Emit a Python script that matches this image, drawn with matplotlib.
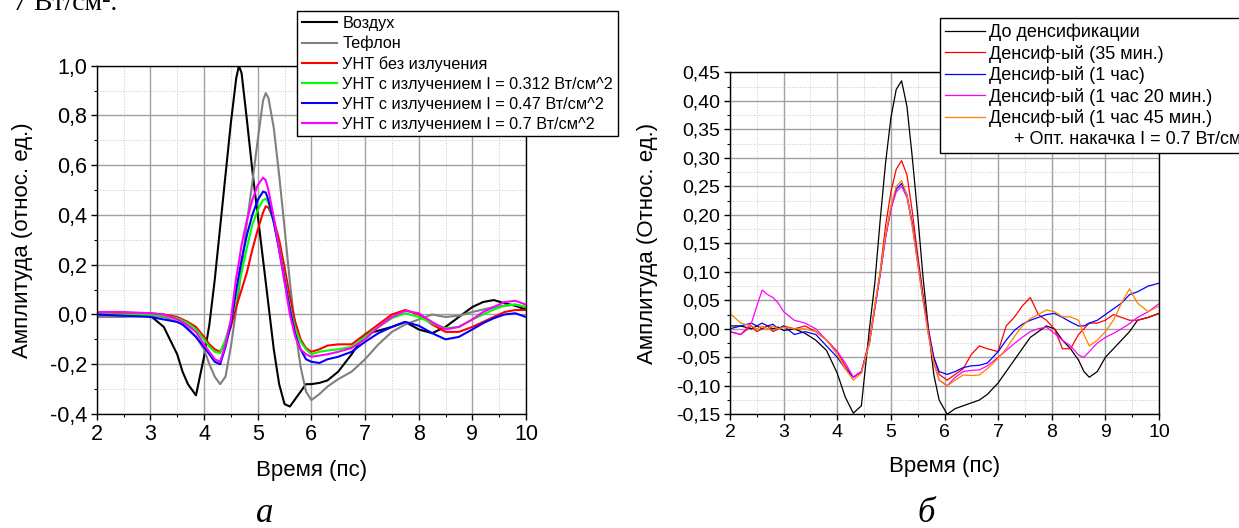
import matplotlib
matplotlib.use('Agg')
import matplotlib.pyplot as plt
from matplotlib.lines import Line2D
from matplotlib.ticker import MultipleLocator, FuncFormatter

plt.rcParams['font.family'] = ['Liberation Sans', 'DejaVu Sans']
plt.rcParams['axes.unicode_minus'] = False

# ---- panel (a): time axis, ps
t_a = [2.0, 2.5, 3.0, 3.25, 3.5, 3.6, 3.7, 3.85, 4.0, 4.1,
       4.2, 4.3, 4.4, 4.5, 4.6, 4.65, 4.7, 4.8, 4.9, 5.0,
       5.1, 5.15, 5.2, 5.3, 5.4, 5.5, 5.6, 5.7, 5.8, 5.9,
       6.0, 6.15, 6.3, 6.5, 6.75, 7.0, 7.25, 7.5, 7.75, 8.0,
       8.25, 8.5, 8.75, 9.0, 9.2, 9.4, 9.6, 9.8, 10.0]

air = [0.0, -0.005, -0.005, -0.05, -0.16, -0.23, -0.28, -0.325, -0.17, -0.04,
       0.14, 0.35, 0.56, 0.77, 0.95, 1.0, 0.97, 0.78, 0.58, 0.4,
       0.22, 0.13, 0.04, -0.14, -0.28, -0.36, -0.37, -0.34, -0.31, -0.28,
       -0.28, -0.275, -0.265, -0.23, -0.16, -0.08, -0.065, -0.05, -0.03, -0.06,
       -0.075, -0.05, -0.01, 0.03, 0.05, 0.058, 0.045, 0.035, 0.02]

teflon = [-0.01, -0.01, -0.005, -0.01, -0.03, -0.04, -0.055, -0.09, -0.14, -0.2,
          -0.25, -0.28, -0.25, -0.13, 0.02, 0.1, 0.19, 0.37, 0.53, 0.7,
          0.86, 0.89, 0.87, 0.75, 0.56, 0.35, 0.13, -0.06, -0.21, -0.31,
          -0.344, -0.32, -0.29, -0.26, -0.23, -0.18, -0.12, -0.07, -0.04, -0.02,
          0.0, -0.01, -0.005, 0.01, 0.02, 0.03, 0.035, 0.04, 0.03]

cnt_0 = [0.01, 0.005, 0.005, 0.0, -0.01, -0.02, -0.03, -0.05, -0.09, -0.12,
         -0.14, -0.15, -0.11, -0.05, 0.03, 0.065, 0.1, 0.17, 0.26, 0.34,
         0.41, 0.435, 0.43, 0.38, 0.3, 0.19, 0.07, -0.03, -0.1, -0.135,
         -0.15, -0.14, -0.125, -0.12, -0.12, -0.08, -0.04, 0.0, 0.018, 0.0,
         -0.04, -0.07, -0.07, -0.05, -0.03, -0.01, 0.01, 0.018, 0.018]

cnt_312 = [0.0, 0.0, 0.0, -0.005, -0.015, -0.025, -0.035, -0.06, -0.1, -0.13,
           -0.15, -0.155, -0.1, -0.03, 0.07, 0.12, 0.17, 0.27, 0.36, 0.42,
           0.46, 0.465, 0.45, 0.37, 0.27, 0.15, 0.03, -0.06, -0.11, -0.14,
           -0.16, -0.15, -0.145, -0.14, -0.13, -0.09, -0.05, -0.015, 0.005, -0.01,
           -0.035, -0.055, -0.05, -0.02, 0.0, 0.02, 0.035, 0.04, 0.03]

cnt_47 = [0.0, -0.005, -0.01, -0.02, -0.03, -0.04, -0.06, -0.09, -0.13, -0.16,
          -0.19, -0.2, -0.13, -0.04, 0.1, 0.16, 0.22, 0.32, 0.4, 0.46,
          0.494, 0.49, 0.46, 0.37, 0.26, 0.14, 0.02, -0.08, -0.14, -0.18,
          -0.19, -0.195, -0.18, -0.17, -0.15, -0.11, -0.075, -0.05, -0.03, -0.045,
          -0.075, -0.1, -0.09, -0.06, -0.035, -0.015, 0.0, 0.005, -0.01]

cnt_7 = [0.01, 0.01, 0.005, 0.0, -0.02, -0.03, -0.045, -0.07, -0.12, -0.15,
         -0.18, -0.19, -0.12, -0.02, 0.15, 0.21, 0.28, 0.38, 0.46, 0.52,
         0.55, 0.54, 0.5, 0.39, 0.26, 0.13, 0.0, -0.09, -0.14, -0.16,
         -0.17, -0.165, -0.16, -0.15, -0.135, -0.1, -0.05, -0.01, 0.015, 0.005,
         -0.03, -0.06, -0.05, -0.02, 0.01, 0.03, 0.05, 0.055, 0.04]

labels_a = ['Воздух', 'Тефлон', 'УНТ без излучения',
            'УНТ с излучением I = 0.312 Вт/см^2',
            'УНТ с излучением I = 0.47 Вт/см^2',
            'УНТ с излучением I = 0.7 Вт/см^2']
colors_a = ['#000000', '#808080', '#ff0000', '#00ff00', '#0000ff', '#ff00ff']

# ---- panel (б)
t_b = [2.0, 2.2, 2.4, 2.5, 2.6, 2.7, 2.8, 2.9, 3.0,
       3.2, 3.4, 3.6, 3.8, 4.0,
       4.15, 4.3, 4.45, 4.6, 4.7, 4.8, 4.9, 5.0,
       5.1, 5.2, 5.3, 5.4, 5.5, 5.6, 5.7, 5.8, 5.9,
       6.05, 6.2, 6.35, 6.5, 6.65, 6.8, 7.0,
       7.15, 7.3, 7.45, 7.6, 7.75, 7.9, 8.05,
       8.2, 8.35, 8.5, 8.6, 8.7, 8.85, 9.0,
       9.15, 9.3, 9.45, 9.6, 9.8, 10.0]

before = [0.005, 0.005, 0.0, 0.005, 0.0, 0.005, 0.0, 0.003, -0.003,
          0.0, -0.008, -0.02, -0.038, -0.078,
          -0.12, -0.148, -0.135, 0.0, 0.08, 0.19, 0.29, 0.37,
          0.42, 0.435, 0.39, 0.3, 0.2, 0.09, 0.0, -0.08, -0.125,
          -0.15, -0.14, -0.135, -0.13, -0.125, -0.115, -0.095,
          -0.075, -0.055, -0.035, -0.015, -0.005, 0.005, 0.0,
          -0.02, -0.035, -0.055, -0.075, -0.085, -0.075, -0.05,
          -0.035, -0.02, -0.005, 0.015, 0.02, 0.027]

dens_35 = [-0.005, -0.01, 0.005, -0.005, 0.0, 0.005, -0.005, 0.0, 0.005,
           0.0, 0.005, -0.005, -0.02, -0.04,
           -0.065, -0.085, -0.075, -0.02, 0.04, 0.1, 0.18, 0.24,
           0.28, 0.295, 0.27, 0.205, 0.13, 0.06, 0.0, -0.05, -0.08,
           -0.09, -0.08, -0.07, -0.045, -0.03, -0.035, -0.04,
           0.005, 0.02, 0.04, 0.055, 0.025, 0.015, 0.0,
           -0.035, -0.035, -0.01, 0.0, 0.01, 0.01, 0.015,
           0.025, 0.02, 0.015, 0.015, 0.02, 0.027]

dens_60 = [0.0, 0.005, 0.01, 0.005, 0.01, 0.005, 0.008, 0.0, 0.005,
           -0.01, -0.005, -0.01, -0.03, -0.05,
           -0.07, -0.085, -0.075, -0.025, 0.035, 0.095, 0.16, 0.21,
           0.245, 0.255, 0.235, 0.185, 0.12, 0.055, -0.005, -0.05, -0.075,
           -0.08, -0.075, -0.068, -0.065, -0.064, -0.06, -0.04,
           -0.02, -0.003, 0.008, 0.015, 0.02, 0.025, 0.027,
           0.02, 0.012, 0.005, 0.005, 0.01, 0.015, 0.025,
           0.035, 0.045, 0.06, 0.065, 0.075, 0.08]

dens_80 = [-0.005, -0.01, 0.01, 0.04, 0.068, 0.06, 0.055, 0.045, 0.03,
           0.015, 0.01, 0.0, -0.02, -0.04,
           -0.06, -0.085, -0.075, -0.025, 0.035, 0.095, 0.16, 0.21,
           0.24, 0.25, 0.23, 0.18, 0.115, 0.05, -0.01, -0.06, -0.09,
           -0.1, -0.085, -0.075, -0.073, -0.072, -0.065, -0.05,
           -0.038, -0.026, -0.015, -0.005, 0.0, 0.003, -0.008,
           -0.02, -0.03, -0.046, -0.05, -0.04, -0.025, -0.015,
           -0.008, 0.0, 0.009, 0.02, 0.03, 0.044]

dens_105 = [0.027, 0.01, 0.005, 0.0, 0.005, 0.0, 0.005, 0.0, 0.003,
            0.0, 0.0, -0.005, -0.02, -0.045,
            -0.07, -0.09, -0.078, -0.025, 0.04, 0.1, 0.165, 0.215,
            0.25, 0.26, 0.235, 0.18, 0.115, 0.05, -0.01, -0.06, -0.09,
            -0.1, -0.09, -0.081, -0.082, -0.081, -0.07, -0.052,
            -0.035, -0.014, 0.005, 0.018, 0.025, 0.033, 0.03,
            0.021, 0.021, 0.015, -0.01, -0.03, -0.02, -0.005,
            0.015, 0.045, 0.07, 0.045, 0.03, 0.04]

labels_b = ['До денсификации', 'Денсиф-ый (35 мин.)', 'Денсиф-ый (1 час)',
            'Денсиф-ый (1 час 20 мин.)', 'Денсиф-ый (1 час 45 мин.)']
colors_b = ['#000000', '#ff0000', '#0000ff', '#ff00ff', '#ff8000']
pump_note = '     + Опт. накачка I = 0.7 Вт/см²'

W, H = 1239, 528


def comma(fmt):
    def f(v, pos):
        if abs(v) < 1e-9:
            v = 0.0
        return (fmt % v).replace('.', ',')
    return FuncFormatter(f)


def style_axes(ax, ylo, yhi, ymaj, ymin, fmt, ylabel, tsize, labelpad):
    ax.set_xlim(2, 10)
    ax.set_ylim(ylo, yhi)
    ax.xaxis.set_major_locator(MultipleLocator(1))
    ax.xaxis.set_minor_locator(MultipleLocator(0.5))
    ax.yaxis.set_major_locator(MultipleLocator(ymaj))
    ax.yaxis.set_minor_locator(MultipleLocator(ymin))
    ax.yaxis.set_major_formatter(comma(fmt))
    ax.grid(which='major', color='#a0a0a0', lw=1.0, ls='-')
    ax.grid(which='minor', color='#c8c8c8', lw=0.7, ls=':')
    ax.set_axisbelow(True)
    ax.tick_params(which='major', direction='out', length=4, width=1.0,
                   labelsize=tsize, pad=3)
    ax.tick_params(which='minor', direction='out', length=2.5, width=0.8)
    for s in ax.spines.values():
        s.set_linewidth(1.0)
    ax.set_xlabel('Время (пс)', fontsize=16, labelpad=11)
    ax.set_ylabel(ylabel, fontsize=16, labelpad=labelpad)


fig = plt.figure(figsize=(W / 100, H / 100), dpi=100)

# left panel
ax1 = fig.add_axes([96.7 / W, 1 - 414 / H, (526 - 96.7) / W, (414 - 65.7) / H])
ys_a = [air, teflon, cnt_0, cnt_312, cnt_47, cnt_7]
for y, c, lab in zip(ys_a, colors_a, labels_a):
    ax1.plot(t_a, y, color=c, lw=1.5, label=lab)
style_axes(ax1, -0.4, 1.0, 0.2, 0.1, '%.1f', 'Амплитуда (относ. ед.)', 15.5, 12)

# right panel
ax2 = fig.add_axes([730 / W, 1 - 414.3 / H, (1159 - 730) / W, (414.3 - 72.3) / H])
ys_b = [before, dens_35, dens_60, dens_80, dens_105]
for y, c, lab in zip(ys_b, colors_b, labels_b):
    ax2.plot(t_b, y, color=c, lw=0.9, label=lab)
style_axes(ax2, -0.15, 0.45, 0.05, 0.025, '%.2f', 'Амплитуда (Относ. ед.)', 14, 13)

# legends sit partly outside the axes
h1, l1 = ax1.get_legend_handles_labels()
leg1 = fig.legend(h1, l1, loc='upper left', bbox_to_anchor=(297 / W, 1 - 11 / H),
                  fontsize=11.7, fancybox=False, edgecolor='black', framealpha=1,
                  borderpad=0.3, labelspacing=0.3, handlelength=2.15,
                  handletextpad=0.35, borderaxespad=0)
leg1.get_frame().set_linewidth(1.0)

h2, l2 = ax2.get_legend_handles_labels()
h2.append(Line2D([], [], color='none'))
l2.append(pump_note)
leg2 = fig.legend(h2, l2, loc='upper left', bbox_to_anchor=(940 / W, 1 - 18 / H),
                  fontsize=13, fancybox=False, edgecolor='black', framealpha=1,
                  borderpad=0.3, labelspacing=0.2, handlelength=2.2,
                  handletextpad=0.22, borderaxespad=0)
leg2.get_frame().set_linewidth(1.0)

# panel letters and the cut-off line of the surrounding document
fig.text(265 / W, 1 - 522 / H, 'а', fontsize=25, style='italic',
         family='Liberation Serif', ha='center', va='baseline')
fig.text(926 / W, 1 - 522 / H, 'б', fontsize=25, style='italic',
         family='Liberation Serif', ha='center', va='baseline')
fig.text(117 / W, 1 - 10 / H, '7 Вт/см².', fontsize=20,
         family='Liberation Serif', ha='right', va='baseline')

fig.savefig('out.png', dpi=100)
